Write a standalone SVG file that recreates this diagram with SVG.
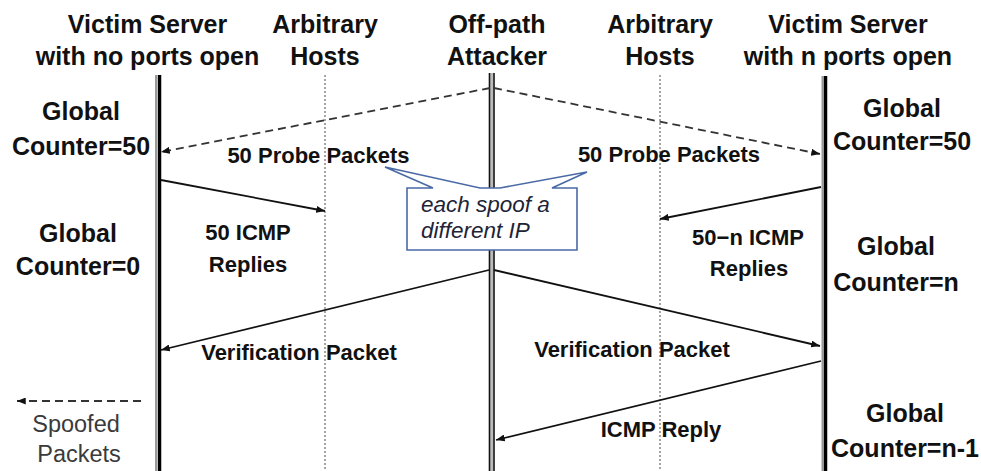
<svg xmlns="http://www.w3.org/2000/svg" width="981" height="471" viewBox="0 0 981 471">
<style>
.hd{font-family:"Liberation Sans",Arial,sans-serif;font-weight:bold;font-size:25px;fill:#111;text-anchor:middle}
.gc{font-family:"Liberation Sans",Arial,sans-serif;font-weight:bold;font-size:25px;fill:#111;text-anchor:middle}
.lb{font-family:"Liberation Sans",Arial,sans-serif;font-weight:bold;font-size:22px;fill:#111;text-anchor:middle}
.sp{font-family:"Liberation Sans",Arial,sans-serif;font-size:23.5px;fill:#3a3a3a;text-anchor:middle}
.co{font-family:"Liberation Sans",Arial,sans-serif;font-style:italic;font-size:22.5px;fill:#1e2436}
.msg{stroke:#111;stroke-width:1.8;fill:none}
.dash{stroke:#333;stroke-width:1.8;fill:none;stroke-dasharray:8 5}
.dot{stroke:#888;stroke-width:1.5;stroke-dasharray:2 2;fill:none}
</style>
<defs>
<marker id="ah" viewBox="0 0 10 8" refX="10" refY="4" markerWidth="9" markerHeight="7" markerUnits="userSpaceOnUse" orient="auto">
<path d="M0,0 L10,4 L0,8 Z" fill="#111"/>
</marker>
</defs>
<rect width="981" height="471" fill="#fff"/>

<g id="victim-left">
<text class="hd" x="147.5" y="33">Victim Server</text>
<text class="hd" x="147.5" y="65">with no ports open</text>
<line x1="156" y1="75" x2="156" y2="471" stroke="#999" stroke-width="2"/>
<line x1="159.5" y1="75" x2="159.5" y2="471" stroke="#000" stroke-width="3.5"/>
</g>
<g id="hosts-left">
<text class="hd" x="325" y="33">Arbitrary</text>
<text class="hd" x="325" y="65">Hosts</text>
<line class="dot" x1="325" y1="75" x2="325" y2="471"/>
</g>
<g id="attacker">
<text class="hd" x="497" y="33">Off-path</text>
<text class="hd" x="497" y="65">Attacker</text>
<line x1="491.7" y1="73" x2="491.7" y2="471" stroke="#bbb" stroke-width="3"/>
<line x1="489.5" y1="73" x2="489.5" y2="471" stroke="#111" stroke-width="1.6"/>
<line x1="494" y1="73" x2="494" y2="471" stroke="#111" stroke-width="1.6"/>
</g>
<g id="hosts-right">
<text class="hd" x="660" y="33">Arbitrary</text>
<text class="hd" x="660" y="65">Hosts</text>
<line class="dot" x1="660" y1="75" x2="660" y2="471"/>
</g>
<g id="victim-right">
<text class="hd" x="848" y="33">Victim Server</text>
<text class="hd" x="848" y="65">with n ports open</text>
<line x1="822.5" y1="76" x2="822.5" y2="471" stroke="#999" stroke-width="2"/>
<line x1="825.5" y1="76" x2="825.5" y2="471" stroke="#000" stroke-width="3.5"/>
</g>

<g id="counters">
<text class="gc" x="81" y="120">Global</text>
<text class="gc" x="81" y="155">Counter=50</text>
<text class="gc" x="78" y="242">Global</text>
<text class="gc" x="78" y="275">Counter=0</text>
<text class="gc" x="902" y="117">Global</text>
<text class="gc" x="902" y="150">Counter=50</text>
<text class="gc" x="896" y="255">Global</text>
<text class="gc" x="896" y="291">Counter=n</text>
<text class="gc" x="905" y="422">Global</text>
<text class="gc" x="905" y="457">Counter=n-1</text>
</g>

<g id="connectors">
<line class="dash" x1="490" y1="88" x2="161" y2="152" marker-end="url(#ah)"/>
<line class="dash" x1="494" y1="88" x2="820" y2="154" marker-end="url(#ah)"/>
<line class="msg" x1="161" y1="180" x2="325" y2="211" marker-end="url(#ah)"/>
<line class="msg" x1="821" y1="187" x2="660" y2="219" marker-end="url(#ah)"/>
<line class="msg" x1="489" y1="270" x2="161" y2="350" marker-end="url(#ah)"/>
<line class="msg" x1="494" y1="270" x2="820" y2="346" marker-end="url(#ah)"/>
<line class="msg" x1="821" y1="361" x2="496" y2="440" marker-end="url(#ah)"/>
<line class="dash" x1="141" y1="401" x2="17" y2="401" marker-end="url(#ah)"/>
</g>

<g id="labels">
<text class="lb" x="318.5" y="163">50 Probe Packets</text>
<text class="lb" x="669" y="162">50 Probe Packets</text>
<text class="lb" x="248" y="240">50 ICMP</text>
<text class="lb" x="248" y="272">Replies</text>
<text class="lb" x="748" y="245">50−n ICMP</text>
<text class="lb" x="749" y="276">Replies</text>
<text class="lb" x="299" y="360">Verification Packet</text>
<text class="lb" x="632" y="357">Verification Packet</text>
<text class="lb" x="661" y="437">ICMP Reply</text>
<text class="sp" x="76" y="432">Spoofed</text>
<text class="sp" x="79" y="462">Packets</text>
</g>

<g id="callout">
<path d="M407,188 L433,188 L385,167 L480,188 L500,188 L587,172 L552,188 L577,188 L577,250 L407,250 Z" fill="#fff" stroke="#4a6aa5" stroke-width="1.6" stroke-linejoin="miter"/>
<text class="co" x="421" y="212">each spoof a</text>
<text class="co" x="421" y="238">different IP</text>
</g>
</svg>
